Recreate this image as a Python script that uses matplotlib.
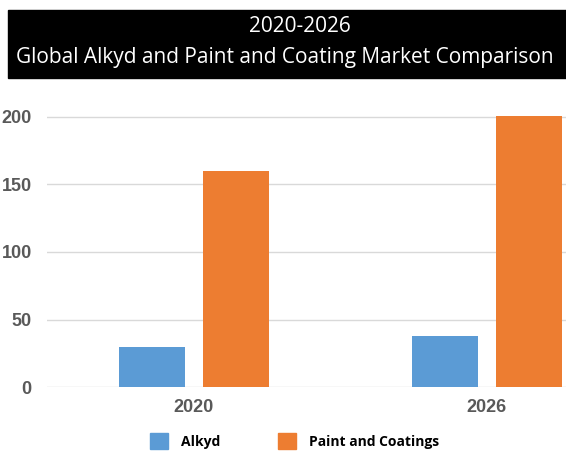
import matplotlib.pyplot as plt
from matplotlib.patches import Rectangle, Patch
import numpy as np

years = ['2020', '2026']
alkyd = [30, 38]
paint = [160, 201]
series_names = ['Alkyd', 'Paint and Coatings']
colors = ['#5b9bd5', '#ed7d31']

W, H = 566, 451
fig = plt.figure(figsize=(W / 100, H / 100), dpi=100)

# title box
fig.patches.append(Rectangle((8 / W, (H - 78) / H), (W - 8) / W, 68 / H,
                             transform=fig.transFigure, color='black', zorder=0))
fig.text(300 / W, (H - 27) / H, '2020-2026', color='white', fontsize=15,
         ha='center', va='center', family='Open Sans')
fig.text(285 / W, (H - 58) / H, 'Global Alkyd and Paint and Coating Market Comparison',
         color='white', fontsize=15, ha='center', va='center', family='Open Sans')

# axes: y=0 at px 387, 1.35 px per unit
ytop = 205
ax = fig.add_axes([47 / W, (H - 387) / H, (W - 47) / W, ytop * 1.35 / H])
x = np.arange(len(years))
bw = 0.225
off = 0.143
ax.bar(x - off, alkyd, bw, color=colors[0], zorder=3)
ax.bar(x + off, paint, bw, color=colors[1], zorder=3)

ax.set_xlim(-0.5, (W - 194) / 293)
ax.set_ylim(0, ytop)
ax.set_yticks([0, 50, 100, 150, 200])
ax.set_xticks(x)
ax.set_xticklabels(years)
ax.grid(axis='y', color='#d9d9d9', linewidth=1, zorder=0)
for s in ['top', 'right', 'left', 'bottom']:
    ax.spines[s].set_visible(False)
ax.tick_params(length=0)
ax.tick_params(axis='y', pad=11)
ax.tick_params(axis='x', pad=9)
for lab in ax.get_xticklabels() + ax.get_yticklabels():
    lab.set_fontsize(13)
    lab.set_fontweight('bold')
    lab.set_color('#595959')
    lab.set_family('Liberation Sans')

handles = [Patch(color=c, label=n) for c, n in zip(colors, series_names)]
fig.legend(handles=handles, loc='center left', bbox_to_anchor=(150 / W, (H - 441) / H),
           ncol=2, frameon=False, borderpad=0, borderaxespad=0,
           handlelength=1.3, handleheight=1.3, handletextpad=0.9, columnspacing=4.2,
           prop={'family': 'Open Sans', 'weight': 'bold', 'size': 10})

fig.savefig('out.png', dpi=100)
